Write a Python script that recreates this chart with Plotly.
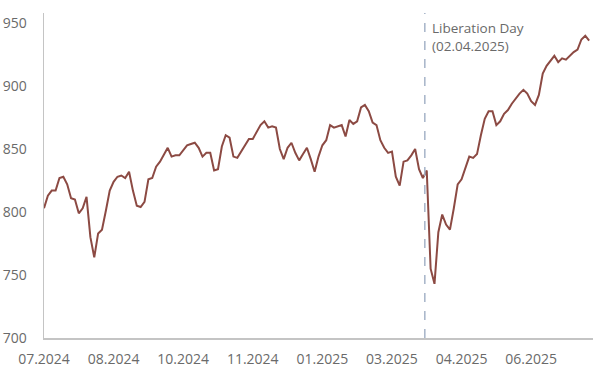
import pandas as pd
import plotly.graph_objects as go

# Trading-day calendar (weekdays) covered by the chart
start_date = "2024-07-01"
end_date = "2025-07-30"
event_date = "2025-04-02"
event_label = "Liberation Day<br>(02.04.2025)"

# Index level, one reading every second weekday
values = [
    803, 813, 817, 817, 827, 828, 822, 811, 810, 799,
    803, 812, 780, 764, 783, 786, 801, 817, 824, 828,
    829, 827, 832, 817, 805, 804, 808, 826, 827, 836,
    840, 845, 851, 844, 845, 845, 849, 853, 854, 855,
    851, 844, 847, 847, 833, 834, 852, 861, 859, 844,
    843, 848, 854, 858, 858, 863, 869, 872, 867, 868,
    867, 850, 842, 851, 855, 847, 841, 846, 851, 842,
    832, 844, 853, 857, 869, 867, 868, 869, 860, 873,
    870, 872, 883, 885, 880, 871, 869, 857, 851, 847,
    848, 828, 821, 840, 841, 845, 850, 834, 827, 833,
    755, 743, 784, 798, 790, 786, 803, 822, 826, 835,
    844, 843, 846, 861, 874, 880, 880, 869, 872, 878,
    881, 886, 890, 894, 897, 894, 888, 885, 893, 910,
    916, 920, 924, 919, 922, 921, 924, 927, 929, 937,
    940, 936,
]

y_ticks = [700, 750, 800, 850, 900, 950]

days = pd.bdate_range(start_date, end_date)
dates = list(days[::2])[: len(values)]
tick_dates = list(days[::36])
tick_text = [d.strftime("%m.%Y") for d in tick_dates]

font_family = "Open Sans, Segoe UI, Arial, sans-serif"
grey_text = "#6a6a6a"
axis_col = "#c4c4c4"

fig = go.Figure()
fig.add_trace(go.Scatter(
    x=dates, y=values, mode="lines",
    line=dict(color="#8c4a43", width=2),
    hoverinfo="skip", showlegend=False,
))

fig.add_shape(
    type="line", xref="x", yref="paper",
    x0=event_date, x1=event_date, y0=0, y1=1,
    line=dict(color="#a6b4c8", width=1.5, dash="dash"),
)
fig.add_annotation(
    x=event_date, xref="x", y=1, yref="paper",
    xanchor="left", yanchor="top", align="left",
    xshift=5, yshift=-4,
    text=event_label, showarrow=False,
    font=dict(family=font_family, size=13.5, color=grey_text),
)

fig.update_layout(
    width=600, height=377,
    margin=dict(l=44, r=7, t=13, b=39),
    paper_bgcolor="white", plot_bgcolor="white",
    font=dict(family=font_family, size=14, color=grey_text),
    hovermode=False,
    xaxis=dict(
        type="date",
        rangebreaks=[dict(bounds=["sat", "mon"])],
        range=["2024-07-01", "2025-08-01"],
        tickvals=tick_dates, ticktext=tick_text,
        showgrid=False, zeroline=False,
        showline=True, linecolor=axis_col, linewidth=1.5,
        ticks="", ticklabelstandoff=8, automargin=False,
        tickfont=dict(size=14, color=grey_text),
    ),
    yaxis=dict(
        range=[700, 958],
        tickvals=y_ticks,
        showgrid=False, zeroline=False,
        showline=True, linecolor=axis_col, linewidth=1.5,
        ticks="", ticklabelstandoff=13, automargin=False,
        tickfont=dict(size=14, color=grey_text),
    ),
)

fig.write_html(
    "out.html",
    config={"displayModeBar": False, "staticPlot": True},
    post_script="document.body.style.margin='0';",
)
